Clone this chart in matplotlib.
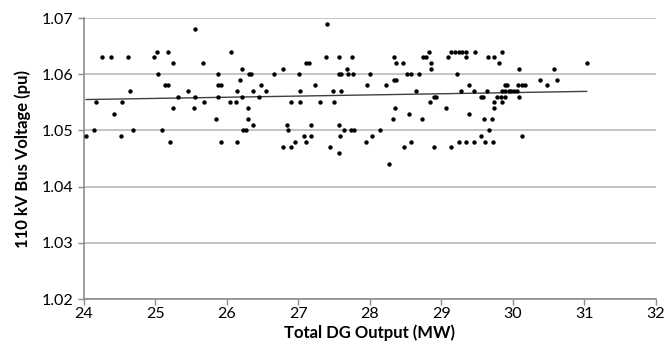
import numpy as np
import matplotlib
matplotlib.use("Agg")
import matplotlib.pyplot as plt

dg_output = [
    24.03, 24.14, 24.17, 24.25, 24.38, 24.42, 24.52, 24.53, 24.61, 24.64, 24.69, 24.98,
    25.02, 25.03, 25.09, 25.13, 25.17, 25.17, 25.21, 25.24, 25.25, 25.32, 25.45, 25.54,
    25.55, 25.55, 25.67, 25.68, 25.84, 25.88, 25.88, 25.91, 25.88, 25.91, 26.04, 26.05,
    26.13, 26.14, 26.14, 26.18, 26.21, 26.21, 26.22, 26.26, 26.29, 26.30, 26.31, 26.33,
    26.37, 26.37, 26.45, 26.48, 26.55, 26.66, 26.78, 26.79, 26.84, 26.85, 26.89, 26.90,
    26.95, 27.01, 27.02, 27.02, 27.08, 27.10, 27.10, 27.15, 27.17, 27.17, 27.23, 27.30,
    27.39, 27.40, 27.44, 27.48, 27.50, 27.57, 27.57, 27.57, 27.58, 27.57, 27.60, 27.60,
    27.63, 27.68, 27.69, 27.73, 27.75, 27.76, 27.77, 27.94, 27.96, 28.00, 28.03, 28.14,
    28.22, 28.26, 28.32, 28.33, 28.33, 28.35, 28.37, 28.37, 28.46, 28.48, 28.52, 28.55,
    28.57, 28.58, 28.65, 28.69, 28.73, 28.74, 28.78, 28.82, 28.84, 28.86, 28.86, 28.90,
    28.90, 28.93, 29.06, 29.09, 29.13, 29.14, 29.19, 29.24, 29.29, 29.34, 29.34, 29.22,
    29.24, 29.27, 29.34, 29.38, 29.39, 29.45, 29.45, 29.47, 29.55, 29.58, 29.55, 29.60,
    29.61, 29.63, 29.65, 29.67, 29.70, 29.72, 29.73, 29.73, 29.73, 29.78, 29.81, 29.83,
    29.85, 29.85, 29.85, 29.89, 29.89, 29.89, 29.92, 29.94, 29.97, 30.01, 30.05, 30.07,
    30.08, 30.08, 30.13, 30.17, 30.13, 30.38, 30.47, 30.58, 30.62, 31.03,
]
bus_voltage = [
    1.049, 1.050, 1.055, 1.063, 1.063, 1.053, 1.049, 1.055, 1.063, 1.057, 1.050, 1.063,
    1.064, 1.060, 1.050, 1.058, 1.058, 1.064, 1.048, 1.062, 1.054, 1.056, 1.057, 1.054,
    1.056, 1.068, 1.062, 1.055, 1.052, 1.060, 1.058, 1.058, 1.056, 1.048, 1.055, 1.064,
    1.055, 1.048, 1.057, 1.059, 1.061, 1.056, 1.050, 1.050, 1.054, 1.052, 1.060, 1.060,
    1.051, 1.057, 1.056, 1.058, 1.057, 1.060, 1.047, 1.061, 1.051, 1.050, 1.055, 1.047,
    1.048, 1.060, 1.057, 1.055, 1.049, 1.062, 1.048, 1.062, 1.051, 1.049, 1.058, 1.055,
    1.063, 1.069, 1.047, 1.057, 1.055, 1.063, 1.060, 1.051, 1.049, 1.046, 1.060, 1.057,
    1.050, 1.061, 1.060, 1.050, 1.063, 1.060, 1.050, 1.048, 1.058, 1.060, 1.049, 1.050,
    1.058, 1.044, 1.052, 1.063, 1.059, 1.054, 1.062, 1.059, 1.062, 1.047, 1.060, 1.053,
    1.048, 1.060, 1.057, 1.060, 1.052, 1.063, 1.063, 1.064, 1.055, 1.062, 1.061, 1.047,
    1.056, 1.056, 1.054, 1.063, 1.047, 1.064, 1.064, 1.064, 1.064, 1.064, 1.063, 1.060,
    1.048, 1.057, 1.048, 1.053, 1.058, 1.057, 1.048, 1.064, 1.056, 1.056, 1.049, 1.052,
    1.048, 1.057, 1.063, 1.050, 1.052, 1.048, 1.063, 1.054, 1.055, 1.056, 1.062, 1.056,
    1.064, 1.057, 1.055, 1.057, 1.056, 1.058, 1.058, 1.057, 1.057, 1.057, 1.057, 1.058,
    1.061, 1.056, 1.058, 1.058, 1.049, 1.059, 1.058, 1.061, 1.059, 1.062,
]
x_ticks = [24, 25, 26, 27, 28, 29, 30, 31, 32]
y_ticks = [1.02, 1.03, 1.04, 1.05, 1.06, 1.07]

plt.rcParams['font.family'] = ['Lato', 'DejaVu Sans']

fig = plt.figure(figsize=(6.68, 3.51), dpi=100)
ax = fig.add_axes([0.1257, 0.148, 0.982 - 0.1257, 0.9487 - 0.148])

x = np.array(dg_output)
y = np.array(bus_voltage)

ax.scatter(x, y, s=10, color='black', zorder=3, linewidths=0)

slope, intercept = np.polyfit(x, y, 1)
xl = np.array([x.min(), x.max()])
ax.plot(xl, slope * xl + intercept, color='#404040', lw=1.0, zorder=2)

ax.set_xlim(24, 32)
ax.set_ylim(1.02, 1.07)
ax.set_xticks(x_ticks)
ax.set_yticks(y_ticks)
ax.set_yticklabels([f"{v:.2f}" for v in y_ticks])
ax.grid(axis='y', color='#bfbfbf', lw=1.3, zorder=0)
ax.set_axisbelow(True)

for s in ['top', 'right']:
    ax.spines[s].set_visible(False)
for s in ['left', 'bottom']:
    ax.spines[s].set_color('#8c8c8c')
    ax.spines[s].set_linewidth(1.2)
ax.tick_params(axis='both', colors='#8c8c8c', length=4, width=1, labelsize=11.5, labelcolor='black', direction='out')
ax.tick_params(axis='x', pad=2)

ax.set_xlabel('Total DG Output (MW)', fontsize=12, fontweight='bold', labelpad=2)
ax.set_ylabel('110 kV Bus Voltage (pu)', fontsize=12, fontweight='bold', labelpad=8)

fig.savefig('out.png', dpi=100)
